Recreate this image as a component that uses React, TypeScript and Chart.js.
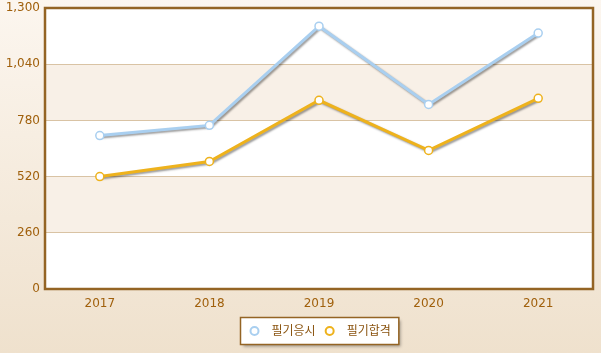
import React, { useEffect, useRef } from "react";
import { Chart, registerables } from "chart.js";

Chart.register(...registerables);

const years = ["2017", "2018", "2019", "2020", "2021"];
const applicants = [710, 757, 1216, 854, 1184];
const passers = [520, 590, 873, 641, 882];
const seriesLabels = ["필기응시", "필기합격"];
const yMax = 1300;
const yStep = 260;

const FONT = '"DejaVu Sans", "Noto Sans CJK KR", sans-serif';
const BLUE = "#a9cff0";
const GOLD = "#eeb21c";
const BROWN = "#946424";
const TICK = "#a0600c";

const decor = {
  id: "decor",
  beforeDraw(chart: any) {
    const { ctx, width, height, chartArea: a } = chart;
    ctx.save();
    const g = ctx.createLinearGradient(0, 0, 0, height);
    g.addColorStop(0, "#fcf6ef");
    g.addColorStop(1, "#efe1cd");
    ctx.fillStyle = g;
    ctx.fillRect(0, 0, width, height);
    ctx.fillStyle = "#ffffff";
    ctx.fillRect(a.left, a.top, a.right - a.left, a.bottom - a.top);
    const y = chart.scales.y;
    const ticks = y.ticks.map((t: any) => t.value);
    for (let i = 0; i < ticks.length - 1; i++) {
      if (i % 2 === 1) {
        const y0 = y.getPixelForValue(ticks[i]);
        const y1 = y.getPixelForValue(ticks[i + 1]);
        ctx.fillStyle = "#f8f0e7";
        ctx.fillRect(a.left, y1, a.right - a.left, y0 - y1);
      }
    }
    ctx.restore();
  },
  beforeDatasetDraw(chart: any) {
    const ctx = chart.ctx;
    ctx.save();
    ctx.shadowColor = "rgba(0,0,0,0.4)";
    ctx.shadowBlur = 2;
    ctx.shadowOffsetX = 1.5;
    ctx.shadowOffsetY = 1.5;
  },
  afterDatasetDraw(chart: any) {
    chart.ctx.restore();
  },
  afterDatasetsDraw(chart: any) {
    const ctx = chart.ctx;
    ctx.save();
    chart.data.datasets.forEach((d: any, i: number) => {
      const meta = chart.getDatasetMeta(i);
      meta.data.forEach((p: any) => {
        ctx.beginPath();
        ctx.arc(p.x, p.y, 4, 0, Math.PI * 2);
        ctx.fillStyle = "#ffffff";
        ctx.fill();
        ctx.lineWidth = 1.5;
        ctx.strokeStyle = d.borderColor;
        ctx.stroke();
      });
    });
    ctx.restore();
  },
  afterDraw(chart: any) {
    const { ctx, chartArea: a } = chart;
    ctx.save();
    ctx.strokeStyle = BROWN;
    ctx.lineWidth = 2.5;
    ctx.strokeRect(a.left, a.top, a.right - a.left, a.bottom - a.top);

    // legend
    ctx.font = "12px " + FONT;
    const items = chart.data.datasets.map((d: any) => ({
      label: d.label,
      color: d.borderColor,
      w: ctx.measureText(d.label).width,
    }));
    const leftPad = 14;
    const markerToText = 17;
    const textToMarker = 14;
    const rightPad = 8;
    let total = leftPad + rightPad;
    items.forEach((it: any, i: number) => {
      total += markerToText + it.w + (i < items.length - 1 ? textToMarker : 0);
    });
    const cx = (a.left + a.right) / 2;
    const bx = Math.round(cx - total / 2) + 0.5;
    const by = 317.5;
    const bh = 27;
    ctx.save();
    ctx.shadowColor = "rgba(0,0,0,0.35)";
    ctx.shadowBlur = 3;
    ctx.shadowOffsetX = 2;
    ctx.shadowOffsetY = 2;
    ctx.fillStyle = "#ffffff";
    ctx.fillRect(bx, by, total, bh);
    ctx.restore();
    ctx.strokeStyle = BROWN;
    ctx.lineWidth = 1.5;
    ctx.strokeRect(bx, by, total, bh);
    let x = bx + leftPad;
    const my = by + bh / 2;
    items.forEach((it: any) => {
      ctx.beginPath();
      ctx.arc(x, my, 4, 0, Math.PI * 2);
      ctx.fillStyle = "#fff";
      ctx.fill();
      ctx.lineWidth = 2;
      ctx.strokeStyle = it.color;
      ctx.stroke();
      ctx.fillStyle = "#8a5410";
      ctx.textBaseline = "middle";
      ctx.textAlign = "left";
      ctx.fillText(it.label, x + markerToText, my + 1);
      x += markerToText + it.w + textToMarker;
    });
    ctx.restore();
  },
};

export default function App() {
  const ref = useRef<HTMLCanvasElement>(null);
  useEffect(() => {
    document.body.style.margin = "0";
    const mk = (label: string, data: number[], color: string) => ({
      label,
      data,
      borderColor: color,
      backgroundColor: "#ffffff",
      borderWidth: 3,
      pointRadius: 0,
      tension: 0,
    });
    const chart = new Chart(ref.current!, {
      type: "line",
      data: {
        labels: years,
        datasets: [mk(seriesLabels[0], applicants, BLUE), mk(seriesLabels[1], passers, GOLD)],
      },
      options: {
        animation: false,
        responsive: false,
        layout: { padding: { top: 8, left: 0, right: 8, bottom: 38 } },
        plugins: { legend: { display: false }, tooltip: { enabled: false } },
        scales: {
          x: {
            offset: true,
            grid: { display: false, drawTicks: false },
            border: { display: false },
            ticks: { color: TICK, font: { family: FONT, size: 12 }, padding: 8 },
            afterFit: (s: any) => {
              s.height = 26;
              s.paddingLeft = 0;
              s.paddingRight = 0;
            },
          },
          y: {
            min: 0,
            max: yMax,
            grid: { color: "#d9c3a4", drawTicks: false, lineWidth: 1 },
            border: { display: false },
            ticks: {
              stepSize: yStep,
              color: TICK,
              font: { family: FONT, size: 12 },
              padding: 5,
            },
            afterFit: (s: any) => {
              s.width = 45;
              s.paddingTop = 0;
              s.paddingBottom = 0;
            },
          },
        },
      },
      plugins: [decor],
    });
    return () => chart.destroy();
  }, []);
  return <canvas ref={ref} width={601} height={353} style={{ display: "block" }} />;
}
